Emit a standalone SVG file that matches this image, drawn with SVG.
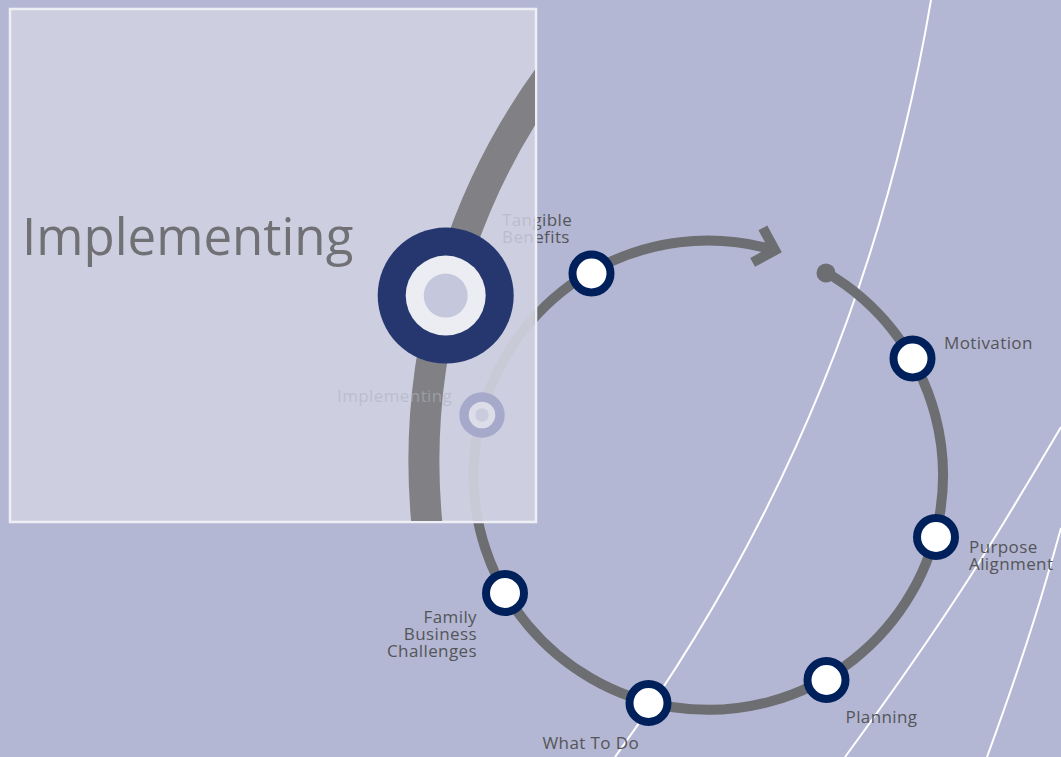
<svg xmlns="http://www.w3.org/2000/svg" xmlns:xlink="http://www.w3.org/1999/xlink" width="1061" height="757" viewBox="0 0 1061 757">
  <style>
    .bg { fill: #b3b7d3; }
    .curve { fill: none; stroke: #ffffff; stroke-width: 2; }
    .ring { fill: none; stroke: #6d6e71; stroke-width: 10; }
    .node { fill: #ffffff; stroke: #00205b; stroke-width: 8; }
    .lbl { font-family: "Open Sans", "Noto Sans", sans-serif; font-size: 17px; letter-spacing: 0.4px; fill: #555559; }
    .faded-ring { fill: none; stroke: #c9cad6; stroke-width: 10; }
    .faded-lbl { font-family: "Open Sans", "Noto Sans", sans-serif; font-size: 17px; letter-spacing: 0.4px; fill: #b0b0bc; fill-opacity: 0.6; }
    .big-lbl { font-family: "Open Sans", "Noto Sans", sans-serif; font-size: 51px; fill: #707075; }
  </style>
  <defs>
    <marker id="chevron" markerUnits="userSpaceOnUse" orient="auto" refX="0" refY="0" markerWidth="60" markerHeight="60" viewBox="-30 -30 60 60" overflow="visible">
      <path d="M-18,-18 L0,0 L-18,18" fill="none" stroke="#6d6e71" stroke-width="10" stroke-linejoin="miter"/>
    </marker>
    <clipPath id="panelClip">
      <rect x="11" y="10" width="524" height="511"/>
    </clipPath>
  </defs>

  <rect class="bg" x="0" y="0" width="1061" height="757"/>

  <g id="background-curves">
    <path class="curve" d="M931,0 Q860,420 615,757"/>
    <path class="curve" d="M1061,427 C1000,530 960,600 845,757"/>
    <path class="curve" d="M1061,528 C1048,575 1030,640 987,757"/>
  </g>

  <g id="connectors">
    <circle cx="826" cy="273" r="9.5" fill="#6d6e71"/>
    <path id="cycle-arc" class="ring" d="M826.3,272.5 A234.5,234.5 0 0 1 590.75,678.1 A234.5,234.5 0 0 1 775,250.3" marker-end="url(#chevron)"/>
  </g>

  <g id="node-tangible-benefits">
    <circle class="node" cx="591.5" cy="273.5" r="19"/>
    <text class="lbl" x="502" y="226">Tangible</text>
    <text class="lbl" x="502" y="243">Benefits</text>
  </g>
  <g id="node-motivation">
    <circle class="node" cx="912.5" cy="358.5" r="19"/>
    <text class="lbl" x="944" y="349">Motivation</text>
  </g>
  <g id="node-purpose-alignment">
    <circle class="node" cx="936" cy="537" r="19"/>
    <text class="lbl" x="969" y="553">Purpose</text>
    <text class="lbl" x="969" y="570">Alignment</text>
  </g>
  <g id="node-planning">
    <circle class="node" cx="826.5" cy="680" r="19"/>
    <text class="lbl" x="845.5" y="723">Planning</text>
  </g>
  <g id="node-what-to-do">
    <circle class="node" cx="648.5" cy="703" r="19"/>
    <text class="lbl" x="542.5" y="749">What To Do</text>
  </g>
  <g id="node-family-business-challenges">
    <circle class="node" cx="505" cy="593" r="19"/>
    <text class="lbl" x="477" y="623" text-anchor="end">Family</text>
    <text class="lbl" x="477" y="640" text-anchor="end">Business</text>
    <text class="lbl" x="477" y="657" text-anchor="end">Challenges</text>
  </g>
  <g id="node-implementing">
    <circle class="node" cx="482" cy="415" r="19"/>
    <text class="lbl" x="337" y="402">Implementing</text>
  </g>

  <g id="zoom-panel">
    <rect x="10" y="9" width="526" height="513" fill="#cdcfe1" stroke="#eeeef5" stroke-width="2.5"/>
    <g clip-path="url(#panelClip)">
      <path class="faded-ring" d="M826.3,272.5 A234.5,234.5 0 0 1 590.75,678.1 A234.5,234.5 0 0 1 775,250.3"/>
      <path d="M586.3,30 A656,656 0 0 0 431.4,560" fill="none" stroke="#808085" stroke-width="31"/>
      <circle cx="482" cy="415" r="18" fill="#dcdde8" stroke="#a6a9ca" stroke-width="9.4"/>
      <circle cx="482" cy="415" r="6.7" fill="#cacbdc"/>
      <text class="faded-lbl" x="337" y="402">Implementing</text>
      <text class="faded-lbl" x="502" y="226">Tangible</text>
      <text class="faded-lbl" x="502" y="243">Benefits</text>
      <circle cx="445.7" cy="295.6" r="68" fill="#25376e"/>
      <circle cx="445.7" cy="295.6" r="40" fill="#ecedf3"/>
      <circle cx="445.7" cy="295.6" r="22" fill="#c5c7dc"/>
      <text class="big-lbl" x="22" y="255">Implementing</text>
    </g>
  </g>
</svg>
